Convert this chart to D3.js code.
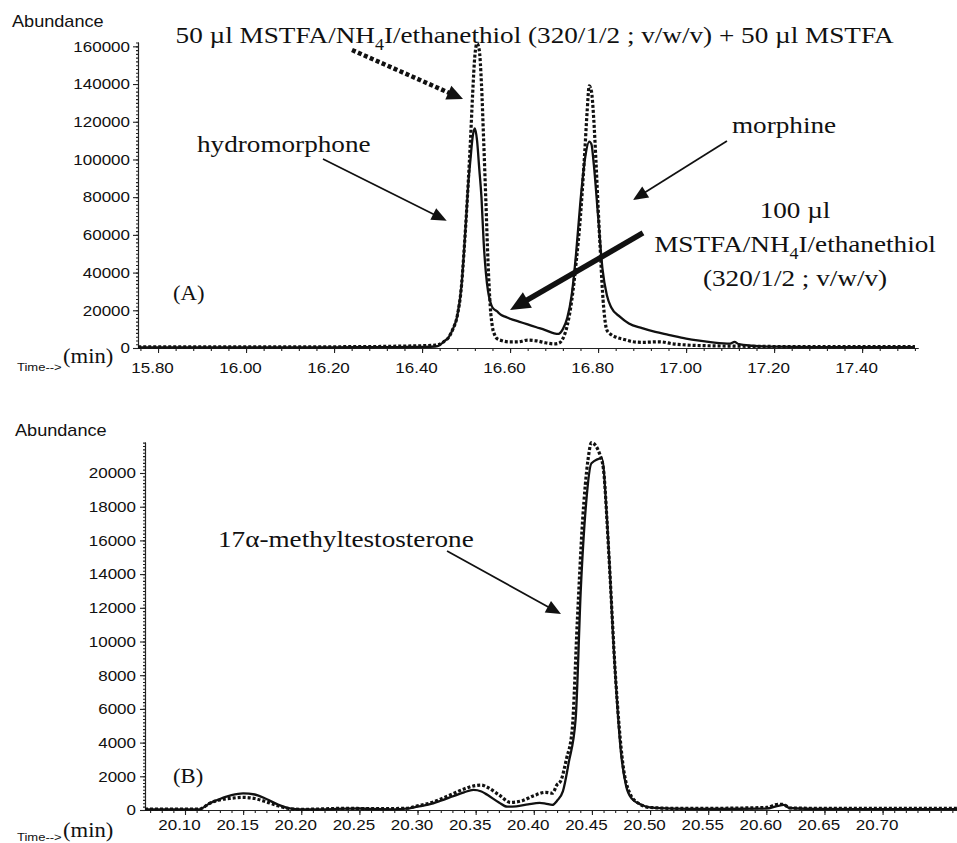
<!DOCTYPE html>
<html><head><meta charset="utf-8">
<script src="https://cdn.jsdelivr.net/npm/d3@7"></script>
<style>body{margin:0;background:#fff}</style>
</head><body>
<svg id="c" width="957" height="843"></svg>
<script>
// ---------- Panel A data (time in min, abundance) ----------
const topSolidT = [15.755,15.85,15.95,16.05,16.15,16.25,16.35,16.40,16.43,16.44,16.45,16.46,16.47,16.48,16.49,16.495,16.50,16.505,16.51,16.515,16.52,16.525,16.53,16.535,16.54,16.545,16.55,16.555,16.56,16.57,16.58,16.59,16.60,16.62,16.64,16.66,16.68,16.70,16.71,16.72,16.73,16.74,16.75,16.76,16.77,16.78,16.785,16.79,16.80,16.81,16.82,16.83,16.85,16.87,16.90,16.93,16.96,17.00,17.03,17.06,17.10,17.11,17.12,17.15,17.20,17.30,17.40,17.52];
const topSolidV = [300,300,300,300,350,400,500,600,800,1500,3500,5500,10000,17000,34000,50000,68000,87000,100000,112000,116500,110000,95000,80000,56000,40000,30000,24500,21500,19500,17500,16500,15500,14000,12500,11000,9500,7800,7500,10000,16000,28000,50000,78000,100000,109500,108000,98000,70000,42000,28000,21500,16500,13000,10500,8500,7000,5000,3900,3000,2300,3200,2000,1200,700,500,400,400];
const topDotT = [15.755,15.85,15.95,16.05,16.15,16.25,16.30,16.35,16.40,16.43,16.44,16.45,16.46,16.47,16.48,16.49,16.495,16.50,16.505,16.51,16.515,16.52,16.525,16.53,16.535,16.54,16.545,16.55,16.555,16.56,16.565,16.57,16.58,16.60,16.62,16.64,16.66,16.68,16.70,16.71,16.72,16.73,16.74,16.75,16.76,16.77,16.775,16.78,16.785,16.79,16.795,16.80,16.805,16.81,16.815,16.82,16.83,16.84,16.86,16.88,16.90,16.94,16.97,17.00,17.05,17.10,17.20,17.30,17.40,17.52];
const topDotV = [600,600,650,600,650,700,800,1000,1200,1500,2000,3500,5500,10000,17000,34000,50000,68000,88000,110000,135000,155000,161500,158000,140000,110000,78000,45000,22000,11000,7000,5000,4000,3200,3300,4200,3800,2800,2200,2500,5000,12000,25000,45000,70000,105000,125000,139000,136000,122000,100000,75000,52000,30000,16000,9500,7000,5800,4500,3300,3000,3300,2200,1600,1200,1000,800,700,700,700];

// ---------- Panel B data ----------
const botSolidT = [20.0656,20.09,20.112,20.117,20.12,20.13,20.14,20.15,20.16,20.17,20.18,20.19,20.20,20.22,20.24,20.25,20.26,20.28,20.29,20.30,20.31,20.32,20.33,20.34,20.348,20.355,20.36,20.37,20.377,20.385,20.395,20.405,20.41,20.416,20.42,20.425,20.43,20.436,20.4405,20.445,20.4496,20.4586,20.463,20.469,20.475,20.4795,20.484,20.493,20.50,20.52,20.55,20.60,20.61,20.615,20.62,20.65,20.70,20.764];
const botSolidV = [30,30,30,200,350,650,880,990,920,650,320,90,30,40,80,90,60,40,80,200,330,550,800,1050,1190,1100,900,450,200,220,330,420,380,300,550,1100,2800,5400,13200,18200,20580,20870,17200,9300,3400,1400,700,300,150,80,60,80,250,300,120,60,50,50];
const botDotT = [20.0656,20.09,20.112,20.117,20.12,20.13,20.14,20.15,20.16,20.17,20.18,20.19,20.20,20.24,20.26,20.29,20.30,20.31,20.32,20.33,20.34,20.35,20.355,20.36,20.37,20.38,20.39,20.40,20.41,20.416,20.42,20.423,20.428,20.433,20.4375,20.442,20.4466,20.4496,20.457,20.46,20.4645,20.4705,20.4765,20.4825,20.49,20.50,20.52,20.55,20.60,20.61,20.615,20.62,20.65,20.70,20.764];
const botDotV = [50,50,50,200,350,600,700,750,680,480,250,80,40,100,80,100,250,400,650,950,1250,1450,1480,1350,900,450,550,850,1050,1000,1500,1700,3000,4750,11300,17200,20770,21800,21070,20180,15250,7700,2800,1000,400,150,100,100,150,330,330,120,100,100,100];

// ---------- Ticks ----------
const topXTicks = [15.80,16.00,16.20,16.40,16.60,16.80,17.00,17.20,17.40];
const topXLabels = ["15.80","16.00","16.20","16.40","16.60","16.80","17.00","17.20","17.40"];
const topYTicks = [0,20000,40000,60000,80000,100000,120000,140000,160000];
const topYLabels = ["0","20000","40000","60000","80000","100000","120000","140000","160000"];
const botXTicks = [20.10,20.15,20.20,20.25,20.30,20.35,20.40,20.45,20.50,20.55,20.60,20.65,20.70];
const botXLabels = ["20.10","20.15","20.20","20.25","20.30","20.35","20.40","20.45","20.50","20.55","20.60","20.65","20.70"];
const botYTicks = [0,2000,4000,6000,8000,10000,12000,14000,16000,18000,20000];
const botYLabels = ["0","2000","4000","6000","8000","10000","12000","14000","16000","18000","20000"];

const SX = 1.133; // horizontal stretch of all lettering in the original
const SANS = "'Liberation Sans', Arial, sans-serif";
const SERIF = "'Liberation Serif', 'Times New Roman', serif";
const INK = "#111";
const svg = d3.select("#c");

const topX = d3.scaleLinear().domain([15.7545, 17.527]).range([138, 918]);
const topY = d3.scaleLinear().domain([0, 162300]).range([348, 42]);
const botX = d3.scaleLinear().domain([20.0656, 20.764]).range([145, 957]);
const botY = d3.scaleLinear().domain([0, 21840]).range([810, 442]);

function label(x, y, anchor, family, size, parts) {
  const g = svg.append("g").attr("transform", `translate(${x},${y}) scale(${SX},1)`);
  const t = g.append("text").attr("text-anchor", anchor).attr("font-family", family)
    .attr("font-size", size).attr("fill", INK);
  let shift = 0;
  parts.forEach(p => {
    const ts = t.append("tspan");
    if (typeof p === "string") { ts.text(p); if (shift) { ts.attr("dy", -shift); shift = 0; } }
    else { shift = size * 0.28; ts.text(p.sub).attr("font-size", size * 0.66).attr("dy", shift); }
  });
  return t;
}

function arrow(x1, y1, x2, y2, o) {
  const dx = x2 - x1, dy = y2 - y1, L = Math.hypot(dx, dy), ux = dx / L, uy = dy / L;
  const bx = x2 - ux * o.hl, by = y2 - uy * o.hl;
  const ln = svg.append("line").attr("x1", x1).attr("y1", y1).attr("x2", bx + ux * 2).attr("y2", by + uy * 2)
    .attr("stroke", INK).attr("stroke-width", o.w);
  if (o.dash) ln.attr("stroke-dasharray", o.dash);
  svg.append("path").attr("d", `M${x2},${y2}L${bx - uy * o.hw},${by + ux * o.hw}L${bx + uy * o.hw},${by - ux * o.hw}Z`)
    .attr("fill", INK);
}

function panel(p) {
  const g = svg.append("g");
  const y0 = p.y.range()[0], x0 = p.x.range()[0];
  g.append("g").attr("transform", `translate(${x0},0)`)
    .call(d3.axisLeft(p.y).tickValues(p.yMinor).tickSize(2).tickFormat("").tickSizeOuter(0));
  g.append("g").attr("transform", `translate(0,${y0})`)
    .call(d3.axisBottom(p.x).tickValues(p.xMinor).tickSize(3).tickFormat("").tickSizeOuter(0));
  const ya = g.append("g").attr("transform", `translate(${x0},0)`)
    .call(d3.axisLeft(p.y).tickValues(p.yTicks).tickSize(5).tickPadding(3).tickSizeOuter(0)
      .tickFormat((d, i) => p.yLabels[i]));
  const xa = g.append("g").attr("transform", `translate(0,${y0})`)
    .call(d3.axisBottom(p.x).tickValues(p.xTicks).tickSize(5).tickSizeOuter(0)
      .tickFormat((d, i) => p.xLabels[i]));
  g.selectAll(".domain, .tick line").attr("stroke", "#222").attr("stroke-width", 1.1);
  ya.selectAll(".tick text").attr("font-family", SANS).attr("font-size", 15).attr("fill", INK)
    .attr("x", -p.yPad / SX).attr("transform", `scale(${SX},1)`);
  xa.selectAll(".tick text").attr("font-family", SANS).attr("font-size", 15).attr("fill", INK)
    .attr("x", -6 / SX).attr("y", p.xLabelY).attr("dy", 0).attr("transform", `scale(${SX},1)`);

  const line = d3.line().x(d => p.x(d[0])).y(d => p.y(d[1])).curve(d3.curveMonotoneX);
  g.append("path").datum(d3.zip(p.dotT, p.dotV)).attr("d", line)
    .attr("fill", "none").attr("stroke", INK).attr("stroke-width", 3.2).attr("stroke-dasharray", "3,2");
  g.append("path").datum(d3.zip(p.solT, p.solV)).attr("d", line)
    .attr("fill", "none").attr("stroke", INK).attr("stroke-width", 2.3).attr("stroke-linejoin", "round");
}

panel({ x: topX, y: topY, xTicks: topXTicks, xLabels: topXLabels, yTicks: topYTicks, yLabels: topYLabels,
  xMinor: d3.range(15.76, 17.53, 0.04), yMinor: d3.range(0, 162001, 2000), yPad: 8, xLabelY: 25,
  solT: topSolidT, solV: topSolidV, dotT: topDotT, dotV: topDotV });
panel({ x: botX, y: botY, xTicks: botXTicks, xLabels: botXLabels, yTicks: botYTicks, yLabels: botYLabels,
  xMinor: d3.range(20.07, 20.765, 0.01), yMinor: d3.range(0, 21801, 200), yPad: 9, xLabelY: 20,
  solT: botSolidT, solV: botSolidV, dotT: botDotT, dotV: botDotV });

// axis titles
label(12, 27, "start", SANS, 16, ["Abundance"]);
label(17, 371, "start", SANS, 11.5, ["Time-->"]);
label(63, 363, "start", SERIF, 20, ["(min)"]);
label(15, 436, "start", SANS, 16, ["Abundance"]);
label(17, 841, "start", SANS, 11.5, ["Time-->"]);
label(63, 837, "start", SERIF, 20, ["(min)"]);

// Panel A annotations (positions in data units)
label(topX(15.84), topY(161800), "start", SERIF, 24, ["50 \u00b5l MSTFA/NH", {sub: "4"}, "I/ethanethiol (320/1/2 ; v/w/v) + 50 \u00b5l MSTFA"]);
arrow(topX(16.2408), topY(158060), topX(16.493), topY(132070), { w: 4.5, dash: "4,2.5", hl: 16, hw: 7.5 });
label(topX(15.8886), topY(103960), "start", SERIF, 24, ["hydromorphone"]);
arrow(topX(16.1749), topY(100250), topX(16.456), topY(67520), { w: 1.7, hl: 15, hw: 6.5 });
label(topX(17.1043), topY(114040), "start", SERIF, 24, ["morphine"]);
arrow(topX(17.0929), topY(109790), topX(16.8793), topY(78500), { w: 1.7, hl: 15, hw: 6.5 });
label(topX(17.2475), topY(68950), "middle", SERIF, 24, ["100 \u00b5l"]);
label(topX(17.2475), topY(50920), "middle", SERIF, 24, ["MSTFA/NH", {sub: "4"}, "I/ethanethiol"]);
label(topX(17.2475), topY(32880), "middle", SERIF, 24, ["(320/1/2 ; v/w/v)"]);
arrow(topX(16.902), topY(61000), topX(16.60), topY(20150), { w: 5.5, hl: 20, hw: 9 });
label(topX(15.834), topY(25460), "start", SERIF, 20, ["(A)"]);

// Panel B annotations
label(botX(20.1284), botY(15610), "start", SERIF, 24, ["17\u03b1-methyltestosterone"]);
arrow(botX(20.3254), botY(15370), botX(20.4234), botY(11630), { w: 1.7, hl: 15, hw: 6.5 });
label(botX(20.0897), botY(1602), "start", SERIF, 20, ["(B)"]);
</script>
</body></html>
